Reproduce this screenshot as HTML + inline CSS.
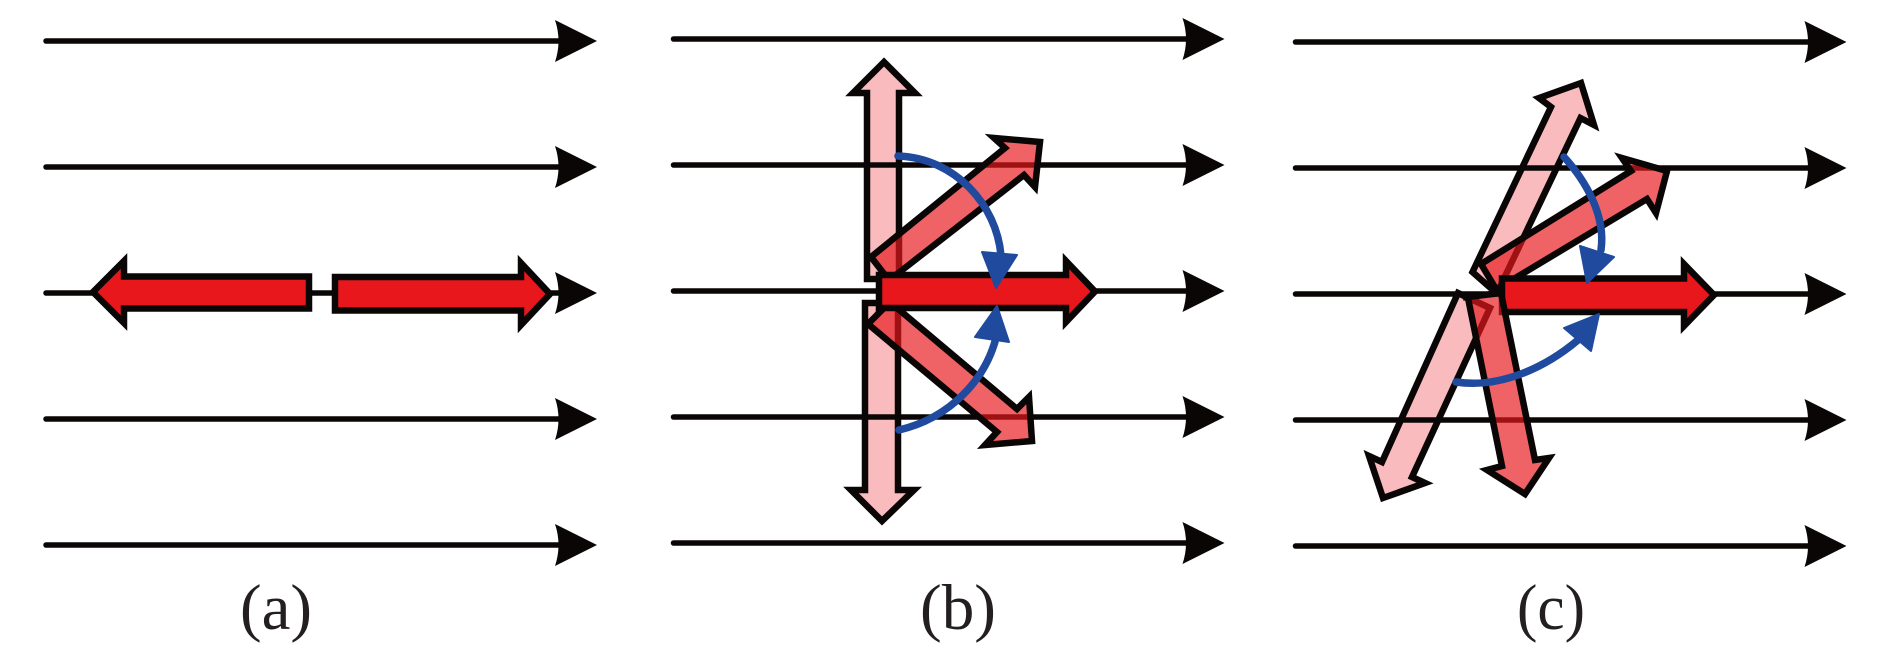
<!DOCTYPE html>
<html><head><meta charset="utf-8"><style>
html,body{margin:0;padding:0;background:#fff;width:1890px;height:662px;overflow:hidden}
svg{display:block}
text{font-family:"Liberation Serif",serif;font-size:65px;fill:#231f20;text-anchor:middle}
.k{fill:none;stroke:#0a0606;stroke-width:6.5;stroke-miterlimit:6}
.r{fill:#e8171c;stroke:#0a0606;stroke-width:6.5;stroke-miterlimit:6}
.p{fill:#f9bbbd;stroke:#0a0606;stroke-width:6.5;stroke-miterlimit:6}
.d{fill:#e8171c;fill-opacity:.68;stroke:none}
.bl{fill:none;stroke:#1f4a9e;stroke-width:7.5;stroke-linecap:round}
.bh{fill:#1f4a9e;stroke:#1f4a9e;stroke-width:2;stroke-linejoin:round}
</style></head><body>
<svg width="1890" height="662" viewBox="0 0 1890 662" xmlns="http://www.w3.org/2000/svg">
<defs><g id="l"><line x1="0" y1="0" x2="522" y2="0" stroke="#0a0606" stroke-width="5.5" stroke-linecap="round"/><path d="M551,0 L509,-21 Q516,0 509,21Z" fill="#0a0606"/></g></defs>

<!-- panel a -->
<use href="#l" x="46" y="41"/><use href="#l" x="46" y="167"/><use href="#l" x="46" y="293"/><use href="#l" x="46" y="419"/><use href="#l" x="46" y="545"/>
<polygon class="r" points="93,292 124,261 124,276.5 309,276.5 309,308.5 124,308.5 124,323"/>
<polygon class="r" points="550,294 521,263 521,277 335,277 335,310.5 521,310.5 521,325"/>
<text x="276" y="629" textLength="72" lengthAdjust="spacingAndGlyphs">(a)</text>

<!-- panel b -->
<polygon class="p" points="884,62 853,93 867,93 867,279 899,279 899,93 915,93"/>
<polygon class="p" points="882,521 851,490 865,490 865,303 898,303 898,490 914,490"/>
<use href="#l" x="673.5" y="39"/><use href="#l" x="673.5" y="165"/><use href="#l" x="673.5" y="291"/><use href="#l" x="673.5" y="417"/><use href="#l" x="673.5" y="543"/>
<g>
<polygon class="d" points="871,257 1005,148 994,138 1040,142 1035,187 1024,175 888,285"/>
<polyline class="k" points="885,275 871,257 1005,148 994,138 1040,142 1035,187 1024,175 892,278"/>
<polygon class="d" points="868,324 997,432 985,445 1032,441 1029,397 1017,409 884,297"/>
<polyline class="k" points="884,308 868,324 997,432 985,445 1032,441 1029,397 1017,409 884,297"/>
</g>
<polygon class="r" points="1095,291.5 1066,261 1066,275 879,275 879,308 1066,308 1066,322"/>
<path class="bl" d="M898,156 C955,158 997,205 1001,256"/>
<polygon class="bh" points="982,252 1017,255 996,288"/>
<path class="bl" d="M899,430 C950,418 985,380 996,338"/>
<polygon class="bh" points="975,337 1009,342 997,306"/>
<text x="958" y="629" textLength="76" lengthAdjust="spacingAndGlyphs">(b)</text>

<!-- panel c -->
<polygon class="p" points="1581,83 1539,98 1551,107 1472.5,272 1494,291 1498,291 1580.5,118 1594,125"/>
<polygon class="p" points="1383,498 1425,483 1412,477 1490,308 1458,293 1382,462 1369,456"/>
<use href="#l" x="1295.5" y="42"/><use href="#l" x="1295.5" y="168"/><use href="#l" x="1295.5" y="294"/><use href="#l" x="1295.5" y="420"/><use href="#l" x="1295.5" y="546"/>
<polygon class="d" points="1481,264 1631,171 1622,158 1667,171 1656,213 1647,199 1497,289"/>
<polyline class="k" points="1496,289 1481,264 1631,171 1622,158 1667,171 1656,213 1647,199 1497,289"/>
<polygon class="r" points="1714,295 1684,264 1684,278.5 1502,278.5 1502,312 1684,312 1684,326"/>
<polygon class="d" points="1468,298 1502,466 1487,470 1525,494 1549,458 1535,460 1501,293"/>
<polyline class="k" points="1463,297.5 1501,293 1535,460 1549,458 1525,494 1487,470 1502,466 1468,298"/>
<path class="bl" d="M1564,157 C1585,180 1606,215 1601,250"/>
<polygon class="bh" points="1580,246 1614,257 1587,283"/>
<path class="bl" d="M1456,382 C1495,388 1540,372 1578,340"/>
<polygon class="bh" points="1564,328 1591,351 1599,314"/>
<text x="1551" y="629" textLength="68" lengthAdjust="spacingAndGlyphs">(c)</text>
</svg>
</body></html>
